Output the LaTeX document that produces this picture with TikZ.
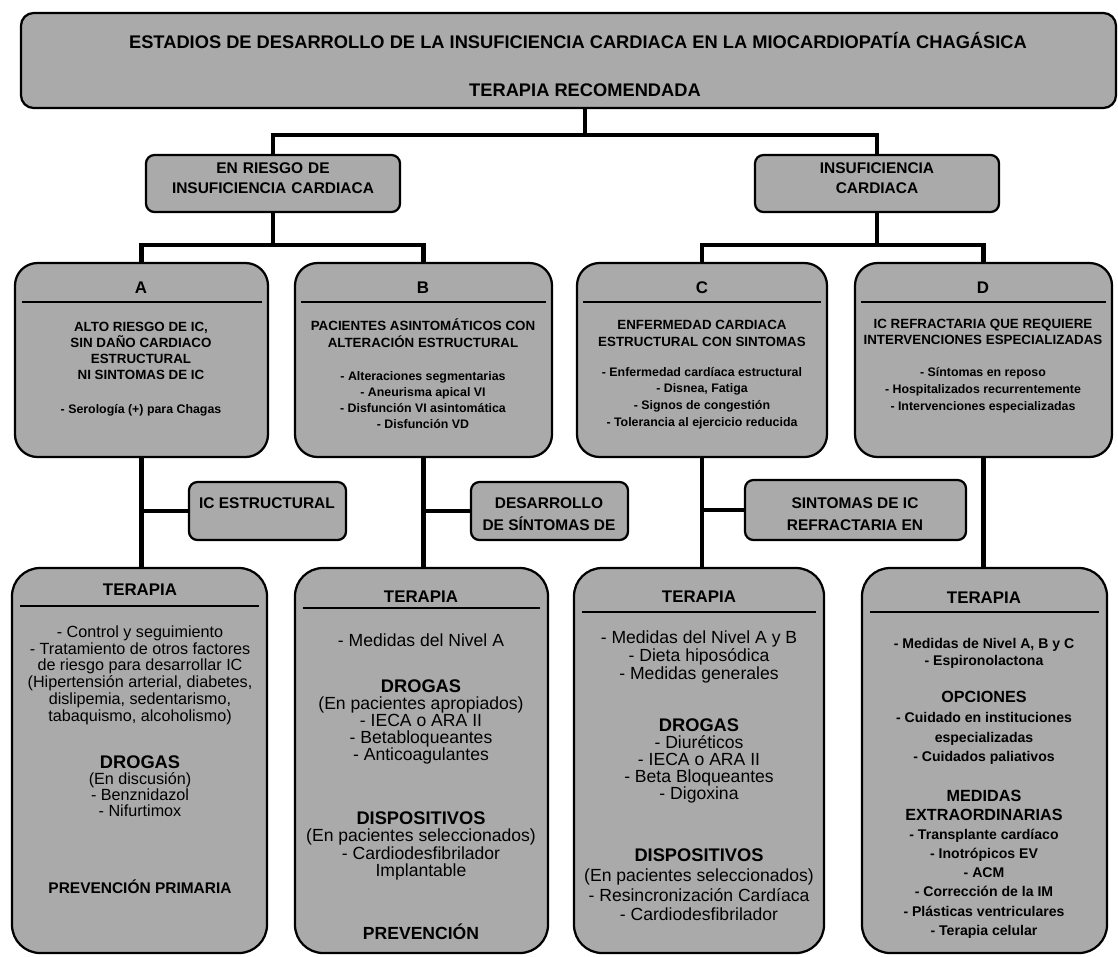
\documentclass[tikz,border=0pt]{standalone}
\usepackage{fontspec}
\setmainfont{Liberation Sans}
\usepackage{tikz}
\usetikzlibrary{fit,positioning}
\definecolor{scangray}{RGB}{170,170,170}
\newcommand{\fsz}[2]{\fontsize{#1}{#2}\selectfont}
\newcommand{\subhd}[1]{{\bfseries\fontsize{13}{12}\selectfont #1}}

\begin{document}
\begin{tikzpicture}[x=0.025cm, y=-0.025cm,
    panel/.style={draw=black, line width=1.6pt, fill=scangray, rounded corners=#1, inner sep=0pt},
    link/.style={line width=3pt},
    rule/.style={line width=0.9pt},
    hdr/.style={font=\bfseries\fsz{12}{13}},
    stagetxt/.style={align=center, font=\bfseries\fsz{9.5}{11.3}},
    stagelist/.style={align=center, font=\bfseries\fsz{8.8}{#1}},
    body/.style={align=center, font=\fsz{12.5}{#1}},
    tag/.style={align=center, font=\bfseries\fsz{11}{15.5}}]
    \useasboundingbox (0,0) rectangle (1118,956);

    % Title
    \node[panel=9pt, fit={(21,13) (1116,108)}] (title) {};
    \node[font=\bfseries\fsz{13}{14}] (titleA) at (578,40) {ESTADIOS DE DESARROLLO DE LA INSUFICIENCIA CARDIACA EN LA MIOCARDIOPATÍA CHAGÁSICA};
    \node[font=\bfseries\fsz{13}{14}] (titleB) at (585,90) {TERAPIA RECOMENDADA};

    % Risk / heart failure
    \node[panel=6pt, fit={(146,155) (400,212)}, align=center, font=\bfseries\fsz{11}{14}] (risk) {EN RIESGO DE\\INSUFICIENCIA CARDIACA};
    \node[panel=6pt, fit={(755,155) (999,212)}, align=center, font=\bfseries\fsz{11}{14}] (hf) {INSUFICIENCIA\\CARDIACA};

    % Stages
    \node[panel=16pt, fit={(15,263) (268,457)}] (stA) {};
    \node[panel=16pt, fit={(295,263) (552,457)}] (stB) {};
    \node[panel=16pt, fit={(577,263) (827,457)}] (stC) {};
    \node[panel=16pt, fit={(855,263) (1112,457)}] (stD) {};
    \draw[rule] (22,302) -- (262,302);
    \draw[rule] (301,302) -- (546,302);
    \draw[rule] (583,302) -- (821,302);
    \draw[rule] (861,302) -- (1106,302);
    \node[hdr] (hA) at (141,288) {A};
    \node[hdr] (hB) at (423,288) {B};
    \node[hdr] (hC) at (702,288) {C};
    \node[hdr] (hD) at (983,288) {D};
    \node[stagetxt, font=\bfseries\fsz{9.5}{11.4}] (tA) at (141,351) {ALTO RIESGO DE IC,\\SIN DAÑO CARDIACO\\ESTRUCTURAL\\NI SINTOMAS DE IC};
    \node[stagelist=11] (lA) at (141,410) {- Serología (+) para Chagas};
    \node[stagetxt, font=\bfseries\fsz{9.5}{12}] (tB) at (423,333) {PACIENTES ASINTOMÁTICOS CON\\ALTERACIÓN ESTRUCTURAL};
    \node[stagelist=11.2] (lB) at (423,400) {- Alteraciones segmentarias\\- Aneurisma apical VI\\- Disfunción VI asintomática\\- Disfunción VD};
    \node[stagetxt, font=\bfseries\fsz{9.5}{12}] (tC) at (702,333) {ENFERMEDAD CARDIACA\\ESTRUCTURAL CON SINTOMAS};
    \node[stagelist=11.8] (lC) at (702,398) {- Enfermedad cardíaca estructural\\- Disnea, Fatiga\\- Signos de congestión\\- Tolerancia al ejercicio reducida};
    \node[stagetxt, font=\bfseries\fsz{9.5}{11}] (tD) at (983,332) {IC REFRACTARIA QUE REQUIERE\\INTERVENCIONES ESPECIALIZADAS};
    \node[stagelist=12] (lD) at (983,390) {- Síntomas en reposo\\- Hospitalizados recurrentemente\\- Intervenciones especializadas};

    % Transitions
    \node[panel=6pt, fit={(189,482) (346,540)}] (tagA) {};
    \node[tag] (tagAt) at (267,503) {IC ESTRUCTURAL};
    \node[panel=6pt, fit={(471,482) (628,540)}] (tagB) {};
    \node[tag] (tagBt) at (549,514) {DESARROLLO\\DE SÍNTOMAS DE};
    \node[panel=6pt, fit={(745,480) (966,540)}] (tagC) {};
    \node[tag] (tagCt) at (855,514) {SINTOMAS DE IC\\REFRACTARIA EN};

    % Therapy
    \node[panel=20pt, fit={(12,568) (267,953)}] (thA) {};
    \node[panel=20pt, fit={(295,568) (548,953)}] (thB) {};
    \node[panel=20pt, fit={(574,568) (824,953)}] (thC) {};
    \node[panel=20pt, fit={(862,568) (1107,953)}] (thD) {};
    \draw[rule] (20,606) -- (259,606);
    \draw[rule] (303,608) -- (540,608);
    \draw[rule] (582,612) -- (816,612);
    \draw[rule] (870,612) -- (1099,612);
    \node[hdr] (hthA) at (140,590) {TERAPIA};
    \node[hdr] (hthB) at (421,597) {TERAPIA};
    \node[hdr] (hthC) at (699,597) {TERAPIA};
    \node[hdr] (hthD) at (984,598) {TERAPIA};

    \node[body=11.9, font=\fsz{11.5}{11.9}] (a1) at (140,675) {- Control y seguimiento\\- Tratamiento de otros factores\\de riesgo para desarrollar IC\\(Hipertensión arterial, diabetes,\\dislipemia, sedentarismo,\\tabaquismo, alcoholismo)};
    \node[body=11.3, font=\fsz{11.5}{11.3}] (a2) at (140,786) {\subhd{DROGAS}\\(En discusión)\\- Benznidazol\\- Nifurtimox};
    \node[font=\bfseries\fsz{11}{12}] (a3) at (140,887) {PREVENCIÓN PRIMARIA};

    \node[body=12] (b1) at (421,640) {- Medidas del Nivel A};
    \node[body=12] (b2) at (421,722) {\subhd{DROGAS}\\(En pacientes apropiados)\\- IECA o ARA II\\- Betabloqueantes\\- Anticoagulantes};
    \node[body=12.3] (b3) at (421,846) {\subhd{DISPOSITIVOS}\\(En pacientes seleccionados)\\- Cardiodesfibrilador\\Implantable};
    \node[font=\bfseries\fsz{12.5}{13}] (b4) at (421,932) {PREVENCIÓN};

    \node[body=10.8] (c1) at (699,657) {- Medidas del Nivel A y B\\- Dieta hiposódica\\- Medidas generales};
    \node[body=12] (c2) at (699,761) {\subhd{DROGAS}\\- Diuréticos\\- IECA o ARA II\\- Beta Bloqueantes\\- Digoxina};
    \node[body=14] (c3) at (699,885) {\subhd{DISPOSITIVOS}\\(En pacientes seleccionados)\\- Resincronización Cardíaca\\- Cardiodesfibrilador};

    \node[font=\bfseries\fsz{10}{12}, align=center] (d1) at (984,653) {- Medidas de Nivel A, B y C\\- Espironolactona};
    \node[font=\bfseries\fsz{10}{14}, align=center] (d2) at (984,728) {{\fsz{11.5}{14}OPCIONES}\\- Cuidado en instituciones\\especializadas\\- Cuidados paliativos};
    \node[font=\bfseries\fsz{10}{13.6}, align=center] (d3) at (984,864) {{\fsz{11.5}{13.6}MEDIDAS}\\{\fsz{11.5}{13.6}EXTRAORDINARIAS}\\- Transplante cardíaco\\- Inotrópicos EV\\- ACM\\- Corrección de la IM\\- Plásticas ventriculares\\- Terapia celular};

    % Connectors
    \coordinate (busTop) at (585,135);
    \coordinate (busL) at (282,245);
    \coordinate (busR) at (840,245);
    \draw[link] (title.south -| busTop) -- (busTop);
    \draw[link] (risk.north) |- (busTop) -| (hf.north);
    \draw[link] (risk.south) -- (risk.south |- busL);
    \draw[link] (stA.north) |- (busL) -| (stB.north);
    \draw[link] (hf.south) -- (hf.south |- busR);
    \draw[link] (stC.north) |- (busR) -| (stD.north);
    \draw[link] (stA.south) -- (stA.south |- thA.north);
    \draw[link] (stB.south) -- (stB.south |- thB.north);
    \draw[link] (stC.south) -- (stC.south |- thC.north);
    \draw[link] (stD.south) -- (stD.south |- thD.north);
    \draw[link] (stA.south |- tagA.west) -- (tagA.west);
    \draw[link] (stB.south |- tagB.west) -- (tagB.west);
    \draw[link] (stC.south |- tagC.west) -- (tagC.west);
\end{tikzpicture}
\end{document}
